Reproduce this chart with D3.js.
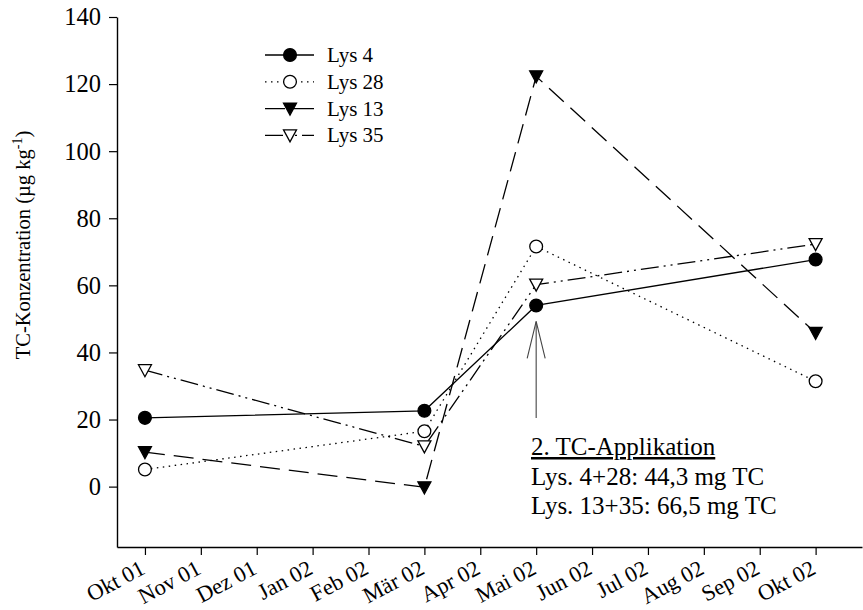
<!DOCTYPE html>
<html>
<head>
<meta charset="utf-8">
<script src="https://cdn.jsdelivr.net/npm/d3@7"></script>
<style>
  html, body { margin: 0; padding: 0; background: #fff; }
  svg { display: block; font-family: "Liberation Serif", "Times New Roman", serif; }
</style>
</head>
<body>
<svg id="chart" width="863" height="610"></svg>
<script>
// Month ticks along the time axis (Oct 2001 – Oct 2002)
const monthLabels = ["Okt 01", "Nov 01", "Dez 01", "Jan 02", "Feb 02", "Mär 02", "Apr 02",
                     "Mai 02", "Jun 02", "Jul 02", "Aug 02", "Sep 02", "Okt 02"];
// Sampling dates as month index into monthLabels
const sampleMonths = [0, 5, 7, 12];
const yTicks = [0, 20, 40, 60, 80, 100, 120, 140];

// TC concentrations (µg kg-1) per lysimeter
const lys4  = [20.5, 22.6, 54.0, 67.7];
const lys28 = [5.1, 16.5, 71.6, 31.4];
const lys13 = [10.3, -0.2, 122.3, 45.8];
const lys35 = [34.7, 12.0, 60.2, 72.3];

const seriesNames = ["Lys 4", "Lys 28", "Lys 13", "Lys 35"];
const seriesValues = [lys4, lys28, lys13, lys35];

const annotationLines = ["2. TC-Applikation", "Lys. 4+28: 44,3 mg TC", "Lys. 13+35: 66,5 mg TC"];
const applicationMonth = 7;
const applicationValue = lys4[2];

const styles = [
  { marker: "circle",   fill: "#000", dash: null },
  { marker: "circle",   fill: "#fff", dash: "1.5,4.5" },
  { marker: "triangle", fill: "#000", dash: "20,9" },
  { marker: "triangle", fill: "#fff", dash: "18,5,2,5,2,5" }
];

const svg = d3.select("#chart");

const x = d3.scaleLinear().domain([-0.5, 12.83]).range([117, 862]);
const y = d3.scaleLinear().domain([-18, 140]).range([547, 17]);

// Axes
const yAxis = svg.append("g")
  .attr("transform", "translate(117,0)")
  .call(d3.axisLeft(y).tickValues(yTicks).tickSize(8).tickSizeOuter(0).tickPadding(8));
const xAxis = svg.append("g")
  .attr("transform", "translate(0,547)")
  .call(d3.axisBottom(x).tickValues(d3.range(monthLabels.length)).tickSize(8).tickSizeOuter(0)
        .tickFormat(i => monthLabels[i]));

[yAxis, xAxis].forEach(g => {
  g.attr("font-family", "Liberation Serif").attr("font-size", 24.5);
  g.select(".domain").attr("stroke", "#000").attr("stroke-width", 1.4);
  g.selectAll(".tick line").attr("stroke", "#000").attr("stroke-width", 1.2);
  g.selectAll("text").attr("fill", "#000");
});

xAxis.selectAll(".tick text")
  .attr("font-size", 22.5)
  .attr("text-anchor", "end")
  .attr("dy", null)
  .attr("y", 0)
  .attr("transform", "translate(1,26) rotate(-28)");

// Y axis title
const yTitle = svg.append("text")
  .attr("transform", "translate(30,245) rotate(-90)")
  .attr("text-anchor", "middle")
  .attr("font-size", 20.5)
  .attr("fill", "#000");
yTitle.append("tspan").text("TC-Konzentration (µg kg");
yTitle.append("tspan").attr("dy", -8).attr("font-size", 14).text("-1");
yTitle.append("tspan").attr("dy", 8).text(")");

// Application arrow
const ax = x(applicationMonth);
const arrowTop = y(applicationValue) + 16;
svg.append("line")
  .attr("x1", ax).attr("x2", ax).attr("y1", 418).attr("y2", arrowTop)
  .attr("stroke", "#444").attr("stroke-width", 1.1);
svg.append("path")
  .attr("d", `M${ax - 9},${arrowTop + 37} L${ax},${arrowTop} L${ax + 9},${arrowTop + 37}`)
  .attr("fill", "none").attr("stroke", "#444").attr("stroke-width", 1.1);

// Lines and markers
const line = d3.line().x((d, i) => x(sampleMonths[i])).y(d => y(d));

function drawMarker(g, st, cx, cy) {
  if (st.marker === "circle") {
    g.append("circle").attr("cx", cx).attr("cy", cy).attr("r", 6.4)
      .attr("fill", st.fill).attr("stroke", "#000").attr("stroke-width", 1.3);
  } else {
    g.append("path")
      .attr("d", `M${cx - 6.5},${cy - 5.5} L${cx + 6.5},${cy - 5.5} L${cx},${cy + 6.5} Z`)
      .attr("fill", st.fill).attr("stroke", "#000").attr("stroke-width", 1.3);
  }
}

seriesValues.forEach((vals, k) => {
  const st = styles[k];
  const g = svg.append("g");
  g.append("path").datum(vals).attr("d", line)
    .attr("fill", "none").attr("stroke", "#000").attr("stroke-width", 1.3)
    .attr("stroke-dasharray", st.dash);
  vals.forEach((v, i) => drawMarker(g, st, x(sampleMonths[i]), y(v)));
});

// Legend
const legend = svg.append("g");
seriesNames.forEach((name, k) => {
  const st = styles[k];
  const ly = 55 + k * 26.8;
  legend.append("line").attr("x1", 265).attr("x2", 314).attr("y1", ly).attr("y2", ly)
    .attr("stroke", "#000").attr("stroke-width", 1.3).attr("stroke-dasharray", st.dash);
  drawMarker(legend, st, 290, ly);
  legend.append("text").attr("x", 327).attr("y", ly + 7).attr("font-size", 21).attr("fill", "#000").text(name);
});

// Annotation
const ann = svg.append("g").attr("font-size", 25).attr("fill", "#000");
annotationLines.forEach((t, i) => {
  ann.append("text").attr("x", 531).attr("y", 455 + i * 29.5).text(t)
    .attr("text-decoration", i === 0 ? "underline" : null);
});
</script>
</body>
</html>
